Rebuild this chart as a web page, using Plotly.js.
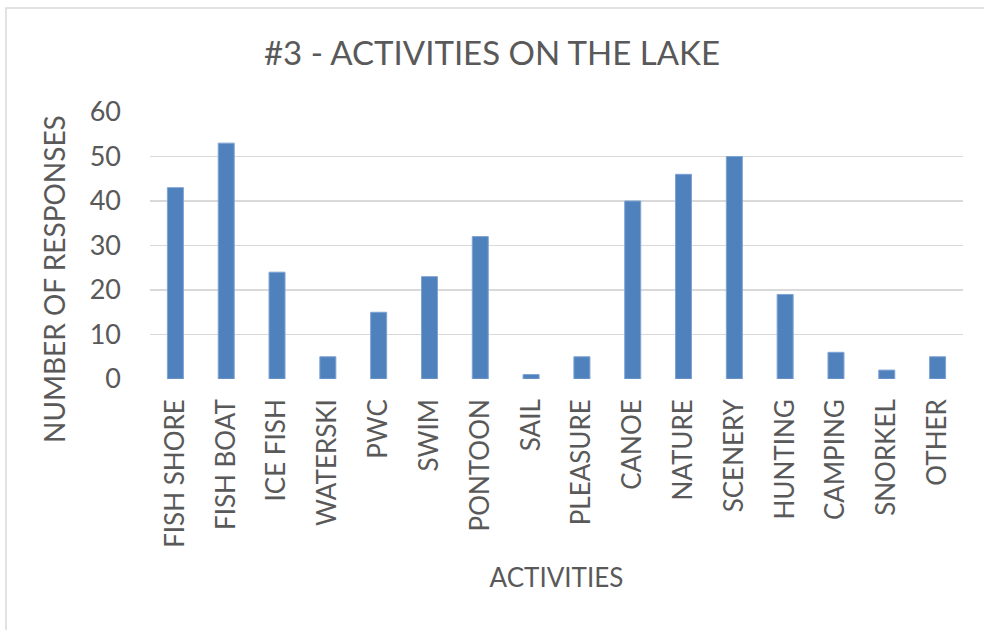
<!DOCTYPE html>
<html>
<head>
<meta charset="utf-8">
<script src="https://cdn.plot.ly/plotly-3.0.1.min.js"></script>
<style>html,body{margin:0;padding:0;background:#fff;}#chart{width:984px;height:630px;}</style>
</head>
<body>
<div id="chart"></div>
<script>
const categories = ["FISH SHORE","FISH BOAT","ICE FISH","WATERSKI","PWC","SWIM","PONTOON","SAIL","PLEASURE","CANOE","NATURE","SCENERY","HUNTING","CAMPING","SNORKEL","OTHER"];
const responses = [43,53,24,5,15,23,32,1,5,40,46,50,19,6,2,5];
const yTicks = [0,10,20,30,40,50,60];

const FONT = "Lato, 'Liberation Sans', sans-serif";
const TXT = "#595959";

const trace = {
  type: "bar",
  x: categories,
  y: responses,
  marker: {color: "#4F81BD", line: {color: "#7FA3D3", width: 1}},
  hoverinfo: "x+y"
};

const layout = {
  width: 984, height: 630,
  paper_bgcolor: "#fff", plot_bgcolor: "#fff",
  margin: {l: 150, r: 21, t: 112, b: 251},
  bargap: 0.685,
  showlegend: false,
  font: {family: FONT, color: TXT},
  title: {text: "#3 - ACTIVITIES ON THE LAKE", font: {family: FONT, size: 33, color: TXT},
          x: 0.5, xref: "container", y: 1 - 53/630, yref: "container", yanchor: "middle"},
  xaxis: {
    type: "category",
    tickangle: -90,
    tickfont: {family: FONT, size: 26, color: TXT},
    ticks: "", showgrid: false, zeroline: false, showline: false,
    ticklabelstandoff: 14,
    title: {text: "ACTIVITIES", font: {family: FONT, size: 26, color: TXT}, standoff: 21},
    automargin: false
  },
  yaxis: {
    range: [0, 60],
    tickvals: yTicks,
    tickfont: {family: FONT, size: 27, color: TXT},
    ticks: "", showline: false, zeroline: false,
    gridcolor: "#D9D9D9", gridwidth: 1.5,
    ticklabelstandoff: 28,
    automargin: false
  },
  annotations: [{
    text: "NUMBER OF RESPONSES", textangle: -90, showarrow: false,
    xref: "paper", yref: "paper",
    x: (54 - 150) / 813, y: (379 - 279) / 267,
    xanchor: "center", yanchor: "middle",
    font: {family: FONT, size: 28, color: TXT}
  }],
  shapes: [{
    type: "rect", xref: "paper", yref: "paper",
    x0: (6 - 150) / 813, x1: 1.1, y0: -1.2, y1: (379 - 8) / 267,
    line: {color: "#D9D9D9", width: 1.5}, fillcolor: "rgba(0,0,0,0)", layer: "below"
  }]
};

Plotly.newPlot("chart", [trace], layout, {staticPlot: true});
</script>
</body>
</html>
